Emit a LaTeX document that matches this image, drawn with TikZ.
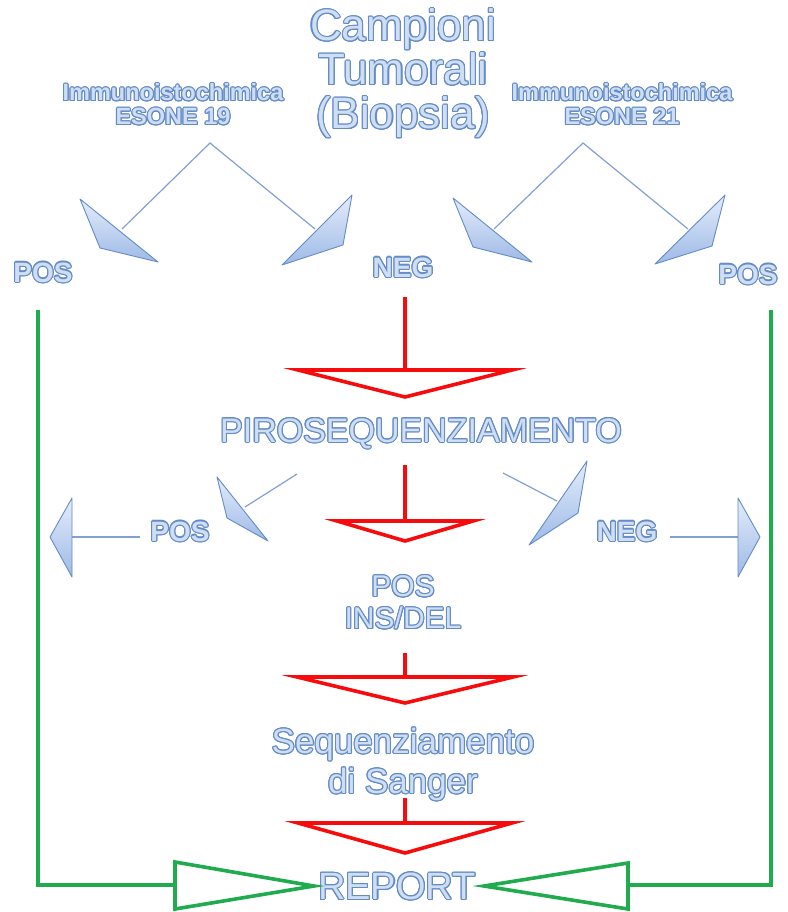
\documentclass[tikz,border=0pt]{standalone}
\usepackage{fontspec}
\setmainfont{Liberation Sans}
\usepackage{contour}
\contourlength{1.1pt}
\contournumber{16}
\usepackage{tikz}
\usetikzlibrary{calc}
\definecolor{txtfill}{RGB}{208,222,243}
\definecolor{txtline}{RGB}{100,140,198}
\definecolor{linkblue}{RGB}{130,160,208}
\definecolor{headlight}{RGB}{228,236,251}
\definecolor{headdark}{RGB}{158,186,230}
\definecolor{flowred}{RGB}{246,12,12}
\definecolor{flowgreen}{RGB}{32,172,78}
\newcommand{\ol}[1]{\contour{txtline}{#1}}
\tikzset{
  lbl/.style={text=txtfill, align=center, inner sep=0pt},
  link/.style={draw=linkblue, line width=1.2pt},
  bluehead/.style={draw=txtline, line width=0.9pt, line join=round, top color=headlight, bottom color=headdark},
  redflow/.style={draw=flowred, line width=3.6pt},
  redhead/.style={draw=flowred, line width=3.6pt, line join=miter, fill=white},
  greenflow/.style={draw=flowgreen, line width=3.6pt},
}

\begin{document}
\begin{tikzpicture}[x=1pt,y=-1pt]
\useasboundingbox (0,0) rectangle (787,912);

\node[lbl, font=\fontsize{44}{44}\selectfont] (campioni) at (403,74) {\ol{Campioni}\\\ol{Tumorali}\\\ol{(Biopsia)}};
\node[lbl, font=\bfseries\fontsize{23.5}{24}\selectfont] (ihc19) at (173,105) {\ol{Immunoistochimica}\\\ol{ESONE 19}};
\node[lbl, font=\bfseries\fontsize{23.5}{24}\selectfont] (ihc21) at (622,105) {\ol{Immunoistochimica}\\\ol{ESONE 21}};
\node[lbl, font=\bfseries\fontsize{28}{30}\selectfont] (pos19) at (43,273) {\ol{POS}};
\node[lbl, font=\bfseries\fontsize{28}{30}\selectfont] (neg) at (403,268) {\ol{NEG}};
\node[lbl, font=\bfseries\fontsize{28}{30}\selectfont] (pos21) at (748,275) {\ol{POS}};
\node[lbl, font=\fontsize{34}{36}\selectfont] (piro) at (421,434) {\ol{PIROSEQUENZIAMENTO}};
\node[lbl, font=\bfseries\fontsize{28}{30}\selectfont] (piropos) at (180,532) {\ol{POS}};
\node[lbl, font=\bfseries\fontsize{28}{30}\selectfont] (pironeg) at (627,532) {\ol{NEG}};
\node[lbl, font=\fontsize{30}{32}\selectfont] (insdel) at (403,603) {\ol{POS}\\\ol{INS/DEL}};
\node[lbl, font=\fontsize{35}{40}\selectfont] (sanger) at (403,765) {\ol{Sequenziamento}\\\ol{di Sanger}};
\node[lbl, font=\fontsize{38}{42}\selectfont] (report) at (397,887) {\ol{REPORT}};

\coordinate (v19) at (210,143);
\coordinate (v19l) at (122,229);
\coordinate (v19r) at (315,229);
\coordinate (v21) at (583,143);
\coordinate (v21l) at (494,229);
\coordinate (v21r) at (688,229);
\draw[link] (v19l) -- (v19) -- (v19r);
\draw[link] (v21l) -- (v21) -- (v21r);
\draw[bluehead] (80,199) -- (100,248) -- (158,262) -- cycle;
\draw[bluehead] (352,195) -- (343,245) -- (282,265) -- cycle;
\draw[bluehead] (453,198) -- (473,247) -- (532,262) -- cycle;
\draw[bluehead] (725,195) -- (712,246) -- (655,264) -- cycle;

\coordinate (pl) at (297,474);
\coordinate (plh) at (245,507);
\coordinate (pr) at (503,473);
\coordinate (prh) at (557,501);
\draw[link] (pl) -- (plh);
\draw[link] (pr) -- (prh);
\draw[bluehead] (217,477) -- (227,518) -- (268,541) -- cycle;
\draw[bluehead] (587,461) -- (578,513) -- (529,545) -- cycle;

\coordinate (ol) at (72,537);
\coordinate (or) at (738,537);
\draw[link] (piropos.west) ++(-10,5) -- (ol);
\draw[link] (pironeg.east) ++(12,5) -- (or);
\draw[bluehead] (72,498) -- (50,537) -- (72,577) -- cycle;
\draw[bluehead] (738,498) -- (760,537) -- (738,577) -- cycle;

\coordinate (r1) at (405,297);
\coordinate (r1b) at (405,370);
\draw[redflow] (r1) -- (r1b);
\draw[redhead] (298,370) -- (512,370) -- (405,397) -- cycle;
\coordinate (r2) at (405,465);
\coordinate (r2b) at (405,521);
\draw[redflow] (r2) -- (r2b);
\draw[redhead] (337,521) -- (473,521) -- (405,541) -- cycle;
\coordinate (r3) at (405,653);
\coordinate (r3b) at (405,677);
\draw[redflow] (r3) -- (r3b);
\draw[redhead] (297,677) -- (513,677) -- (405,703) -- cycle;
\coordinate (r4) at (405,798);
\coordinate (r4b) at (405,823);
\draw[redflow] (r4) -- (r4b);
\draw[redhead] (298,823) -- (512,823) -- (405,853) -- cycle;

\coordinate (gl) at (38,310);
\coordinate (glb) at (175,885);
\coordinate (gr) at (771,310);
\coordinate (grb) at (628,885);
\draw[greenflow] (gl) |- (glb);
\draw[greenflow] (gr) |- (grb);
\draw[greenflow, fill=white] (175,862) -- (314,886) -- (175,909) -- cycle;
\draw[greenflow, fill=white] (628,863) -- (484,886) -- (628,909) -- cycle;
\end{tikzpicture}
\end{document}
